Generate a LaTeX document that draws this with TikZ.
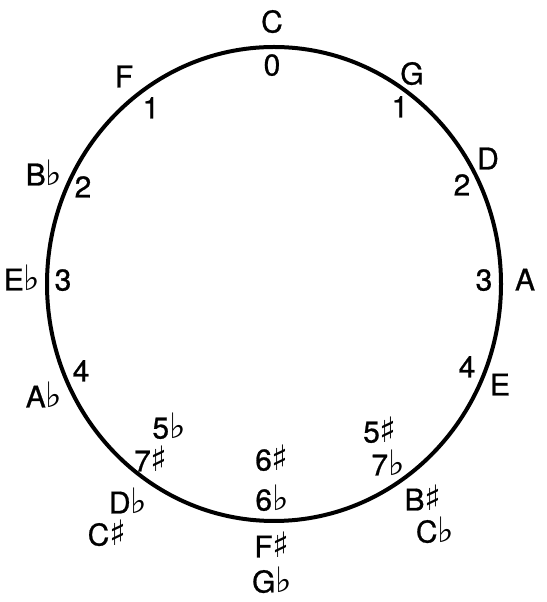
\documentclass[tikz,border=0pt]{standalone}
\usepackage{fontspec}
\setmainfont{TeX Gyre Heros}[FakeBold=1.5]
\newfontfamily\keyfont{TeX Gyre Heros}[FakeBold=0.8]
\newfontfamily\accfont{DejaVu Sans Bold}
\newcommand{\flt}{{\accfont\fontsize{35}{35}\selectfont ♭}}
\newcommand{\shp}{{\accfont\fontsize{35}{35}\selectfont ♯}}
\usetikzlibrary{positioning}
\tikzset{
  key/.style={inner sep=0pt, text height=21pt, text depth=0pt,
              font=\keyfont\fontsize{30}{33}\selectfont},
  count/.style={key},
  rim/.style={line width=4pt, black},
}

\begin{document}
\begin{tikzpicture}[x=1pt, y=1pt]
  \useasboundingbox (0,0) rectangle (546,602);
  \draw[rim] (274,318) ellipse [x radius=227, y radius=237];

  % keys round the outside, counts inside
  \node[key] (c) at (272,580) {C};
  \node[count] (c0) at (272,537) {0};
  \node[key] (f) at (124,525) {F};
  \node[count] (f1) at (151,494) {1};
  \node[key] (g) at (412,528) {G};
  \node[count] (g1) at (400,495) {1};
  \node[key] (bb) at (44,427) {B\flt};
  \node[count] (bb2) at (83,415) {2};
  \node[key] (d) at (488,443) {D};
  \node[count] (d2) at (462,417) {2};
  \node[key] (eb) at (22,322) {E\flt};
  \node[count] (eb3) at (63,322) {3};
  \node[count] (a3) at (484,322) {3};
  \node[key] (a) at (525,322) {A};
  \node[count] (ab4) at (81,231) {4};
  \node[key] (ab) at (44,205) {A\flt};
  \node[count] (e4) at (467,235) {4};
  \node[key] (e) at (500,217) {E};

  % enharmonic pairs at the bottom
  \node[count] (db5) at (169,174) {5\flt};
  \node[count] (cs7) at (151,141) {7\shp};
  \node[key] (db) at (128,99) {D\flt};
  \node[key] (cs) at (107,67) {C\shp};
  \node[count] (fs6) at (272,142) {6\shp};
  \node[count] (gb6) at (272,102) {6\flt};
  \node[key] (fs) at (272,55) {F\shp};
  \node[key] (gb) at (272,20) {G\flt};
  \node[count] (b5) at (380,170) {5\shp};
  \node[count] (cb7) at (388,137) {7\flt};
  \node[key] (bs) at (423,102) {B\shp};
  \node[key] (cb) at (435,70) {C\flt};
\end{tikzpicture}
\end{document}
